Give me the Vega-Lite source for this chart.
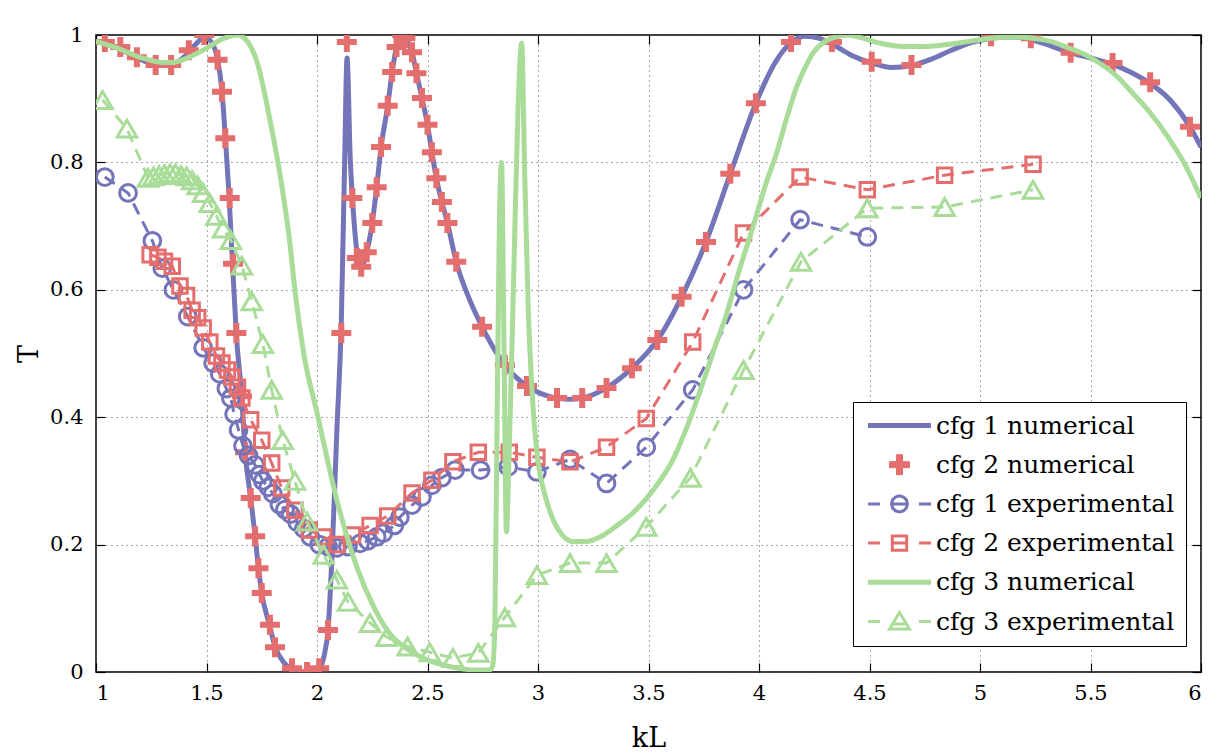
{
  "$schema": "https://vega.github.io/schema/vega-lite/v6.json",
  "width": 1105,
  "height": 637,
  "autosize": "none",
  "padding": {"left": 96, "top": 35, "right": 29, "bottom": 83},
  "background": "white",
  "config": {
    "view": {"stroke": "black", "strokeWidth": 1.5},
    "font": "DejaVu Serif",
    "axis": {
      "labelFont": "DejaVu Serif",
      "labelFontSize": 21,
      "labelColor": "black",
      "titleFont": "DejaVu Serif",
      "titleFontSize": 27,
      "titleFontWeight": "normal",
      "titleColor": "black",
      "tickColor": "black",
      "tickWidth": 1.2,
      "tickSize": -9,
      "domain": false,
      "gridColor": "#555",
      "gridDash": [1, 4],
      "gridWidth": 1
    },
    "legend": {"labelFont": "DejaVu Serif"}
  },
  "datasets": {
    "num": [
      {"s": "cfg 1 numerical", "kL": 1.0, "T": 0.99},
      {"s": "cfg 1 numerical", "kL": 1.05, "T": 0.986},
      {"s": "cfg 1 numerical", "kL": 1.1, "T": 0.979},
      {"s": "cfg 1 numerical", "kL": 1.15, "T": 0.971},
      {"s": "cfg 1 numerical", "kL": 1.2, "T": 0.962},
      {"s": "cfg 1 numerical", "kL": 1.25, "T": 0.955},
      {"s": "cfg 1 numerical", "kL": 1.3, "T": 0.952},
      {"s": "cfg 1 numerical", "kL": 1.35, "T": 0.954},
      {"s": "cfg 1 numerical", "kL": 1.4, "T": 0.966},
      {"s": "cfg 1 numerical", "kL": 1.45, "T": 0.985},
      {"s": "cfg 1 numerical", "kL": 1.49, "T": 0.997},
      {"s": "cfg 1 numerical", "kL": 1.52, "T": 0.99},
      {"s": "cfg 1 numerical", "kL": 1.55, "T": 0.962},
      {"s": "cfg 1 numerical", "kL": 1.57, "T": 0.912},
      {"s": "cfg 1 numerical", "kL": 1.585, "T": 0.84},
      {"s": "cfg 1 numerical", "kL": 1.6, "T": 0.76},
      {"s": "cfg 1 numerical", "kL": 1.615, "T": 0.66},
      {"s": "cfg 1 numerical", "kL": 1.635, "T": 0.53},
      {"s": "cfg 1 numerical", "kL": 1.66, "T": 0.43},
      {"s": "cfg 1 numerical", "kL": 1.675, "T": 0.345},
      {"s": "cfg 1 numerical", "kL": 1.7, "T": 0.273},
      {"s": "cfg 1 numerical", "kL": 1.72, "T": 0.213},
      {"s": "cfg 1 numerical", "kL": 1.735, "T": 0.163},
      {"s": "cfg 1 numerical", "kL": 1.75, "T": 0.124},
      {"s": "cfg 1 numerical", "kL": 1.785, "T": 0.074},
      {"s": "cfg 1 numerical", "kL": 1.81, "T": 0.04},
      {"s": "cfg 1 numerical", "kL": 1.85, "T": 0.015},
      {"s": "cfg 1 numerical", "kL": 1.89, "T": 0.004},
      {"s": "cfg 1 numerical", "kL": 1.955, "T": 0.0},
      {"s": "cfg 1 numerical", "kL": 2.01, "T": 0.006},
      {"s": "cfg 1 numerical", "kL": 2.035, "T": 0.03},
      {"s": "cfg 1 numerical", "kL": 2.05, "T": 0.066},
      {"s": "cfg 1 numerical", "kL": 2.07, "T": 0.2},
      {"s": "cfg 1 numerical", "kL": 2.09, "T": 0.38},
      {"s": "cfg 1 numerical", "kL": 2.11, "T": 0.55},
      {"s": "cfg 1 numerical", "kL": 2.125, "T": 0.8},
      {"s": "cfg 1 numerical", "kL": 2.136, "T": 0.964},
      {"s": "cfg 1 numerical", "kL": 2.15, "T": 0.81},
      {"s": "cfg 1 numerical", "kL": 2.165, "T": 0.72},
      {"s": "cfg 1 numerical", "kL": 2.185, "T": 0.65},
      {"s": "cfg 1 numerical", "kL": 2.2, "T": 0.636},
      {"s": "cfg 1 numerical", "kL": 2.225, "T": 0.659},
      {"s": "cfg 1 numerical", "kL": 2.25, "T": 0.705},
      {"s": "cfg 1 numerical", "kL": 2.27, "T": 0.761},
      {"s": "cfg 1 numerical", "kL": 2.29, "T": 0.824},
      {"s": "cfg 1 numerical", "kL": 2.32, "T": 0.889},
      {"s": "cfg 1 numerical", "kL": 2.34, "T": 0.942},
      {"s": "cfg 1 numerical", "kL": 2.36, "T": 0.981},
      {"s": "cfg 1 numerical", "kL": 2.385, "T": 0.998},
      {"s": "cfg 1 numerical", "kL": 2.405, "T": 0.993},
      {"s": "cfg 1 numerical", "kL": 2.43, "T": 0.973},
      {"s": "cfg 1 numerical", "kL": 2.45, "T": 0.94},
      {"s": "cfg 1 numerical", "kL": 2.475, "T": 0.901},
      {"s": "cfg 1 numerical", "kL": 2.5, "T": 0.859},
      {"s": "cfg 1 numerical", "kL": 2.52, "T": 0.816},
      {"s": "cfg 1 numerical", "kL": 2.54, "T": 0.775},
      {"s": "cfg 1 numerical", "kL": 2.565, "T": 0.738},
      {"s": "cfg 1 numerical", "kL": 2.59, "T": 0.705},
      {"s": "cfg 1 numerical", "kL": 2.63, "T": 0.644},
      {"s": "cfg 1 numerical", "kL": 2.69, "T": 0.585},
      {"s": "cfg 1 numerical", "kL": 2.747, "T": 0.542},
      {"s": "cfg 1 numerical", "kL": 2.8, "T": 0.508},
      {"s": "cfg 1 numerical", "kL": 2.85, "T": 0.482},
      {"s": "cfg 1 numerical", "kL": 2.95, "T": 0.449},
      {"s": "cfg 1 numerical", "kL": 3.086, "T": 0.43},
      {"s": "cfg 1 numerical", "kL": 3.15, "T": 0.428},
      {"s": "cfg 1 numerical", "kL": 3.2, "T": 0.43},
      {"s": "cfg 1 numerical", "kL": 3.31, "T": 0.446},
      {"s": "cfg 1 numerical", "kL": 3.425, "T": 0.477},
      {"s": "cfg 1 numerical", "kL": 3.54, "T": 0.521},
      {"s": "cfg 1 numerical", "kL": 3.65, "T": 0.589},
      {"s": "cfg 1 numerical", "kL": 3.76, "T": 0.675},
      {"s": "cfg 1 numerical", "kL": 3.87, "T": 0.782},
      {"s": "cfg 1 numerical", "kL": 3.986, "T": 0.893},
      {"s": "cfg 1 numerical", "kL": 4.07, "T": 0.955},
      {"s": "cfg 1 numerical", "kL": 4.145, "T": 0.988},
      {"s": "cfg 1 numerical", "kL": 4.21, "T": 0.998},
      {"s": "cfg 1 numerical", "kL": 4.27, "T": 0.995},
      {"s": "cfg 1 numerical", "kL": 4.33, "T": 0.986},
      {"s": "cfg 1 numerical", "kL": 4.42, "T": 0.968},
      {"s": "cfg 1 numerical", "kL": 4.51, "T": 0.956},
      {"s": "cfg 1 numerical", "kL": 4.6, "T": 0.949},
      {"s": "cfg 1 numerical", "kL": 4.69, "T": 0.952},
      {"s": "cfg 1 numerical", "kL": 4.78, "T": 0.962},
      {"s": "cfg 1 numerical", "kL": 4.87, "T": 0.976},
      {"s": "cfg 1 numerical", "kL": 4.96, "T": 0.988},
      {"s": "cfg 1 numerical", "kL": 5.05, "T": 0.995},
      {"s": "cfg 1 numerical", "kL": 5.14, "T": 0.997},
      {"s": "cfg 1 numerical", "kL": 5.23, "T": 0.993},
      {"s": "cfg 1 numerical", "kL": 5.32, "T": 0.983},
      {"s": "cfg 1 numerical", "kL": 5.41, "T": 0.972},
      {"s": "cfg 1 numerical", "kL": 5.5, "T": 0.964},
      {"s": "cfg 1 numerical", "kL": 5.6, "T": 0.954},
      {"s": "cfg 1 numerical", "kL": 5.68, "T": 0.942},
      {"s": "cfg 1 numerical", "kL": 5.77, "T": 0.924},
      {"s": "cfg 1 numerical", "kL": 5.86, "T": 0.898},
      {"s": "cfg 1 numerical", "kL": 5.95, "T": 0.856},
      {"s": "cfg 1 numerical", "kL": 6.0, "T": 0.824},
      {"s": "cfg 3 numerical", "kL": 1.0, "T": 0.99},
      {"s": "cfg 3 numerical", "kL": 1.1, "T": 0.979},
      {"s": "cfg 3 numerical", "kL": 1.2, "T": 0.965},
      {"s": "cfg 3 numerical", "kL": 1.3, "T": 0.957},
      {"s": "cfg 3 numerical", "kL": 1.35, "T": 0.957},
      {"s": "cfg 3 numerical", "kL": 1.4, "T": 0.962},
      {"s": "cfg 3 numerical", "kL": 1.5, "T": 0.979},
      {"s": "cfg 3 numerical", "kL": 1.58, "T": 0.995},
      {"s": "cfg 3 numerical", "kL": 1.64, "T": 1.0},
      {"s": "cfg 3 numerical", "kL": 1.68, "T": 0.992},
      {"s": "cfg 3 numerical", "kL": 1.73, "T": 0.956},
      {"s": "cfg 3 numerical", "kL": 1.787, "T": 0.867},
      {"s": "cfg 3 numerical", "kL": 1.84, "T": 0.765},
      {"s": "cfg 3 numerical", "kL": 1.875, "T": 0.68},
      {"s": "cfg 3 numerical", "kL": 1.9, "T": 0.6},
      {"s": "cfg 3 numerical", "kL": 1.94, "T": 0.5},
      {"s": "cfg 3 numerical", "kL": 2.0, "T": 0.407},
      {"s": "cfg 3 numerical", "kL": 2.09, "T": 0.27},
      {"s": "cfg 3 numerical", "kL": 2.18, "T": 0.165},
      {"s": "cfg 3 numerical", "kL": 2.26, "T": 0.1},
      {"s": "cfg 3 numerical", "kL": 2.33, "T": 0.06},
      {"s": "cfg 3 numerical", "kL": 2.4, "T": 0.038},
      {"s": "cfg 3 numerical", "kL": 2.48, "T": 0.022},
      {"s": "cfg 3 numerical", "kL": 2.56, "T": 0.012},
      {"s": "cfg 3 numerical", "kL": 2.64, "T": 0.006},
      {"s": "cfg 3 numerical", "kL": 2.72, "T": 0.003},
      {"s": "cfg 3 numerical", "kL": 2.78, "T": 0.003},
      {"s": "cfg 3 numerical", "kL": 2.795, "T": 0.01},
      {"s": "cfg 3 numerical", "kL": 2.805, "T": 0.08},
      {"s": "cfg 3 numerical", "kL": 2.815, "T": 0.4},
      {"s": "cfg 3 numerical", "kL": 2.825, "T": 0.7},
      {"s": "cfg 3 numerical", "kL": 2.835, "T": 0.8},
      {"s": "cfg 3 numerical", "kL": 2.845, "T": 0.55},
      {"s": "cfg 3 numerical", "kL": 2.857, "T": 0.22},
      {"s": "cfg 3 numerical", "kL": 2.87, "T": 0.35},
      {"s": "cfg 3 numerical", "kL": 2.89, "T": 0.62},
      {"s": "cfg 3 numerical", "kL": 2.91, "T": 0.89},
      {"s": "cfg 3 numerical", "kL": 2.926, "T": 0.987},
      {"s": "cfg 3 numerical", "kL": 2.94, "T": 0.78},
      {"s": "cfg 3 numerical", "kL": 2.955, "T": 0.58},
      {"s": "cfg 3 numerical", "kL": 2.975, "T": 0.43},
      {"s": "cfg 3 numerical", "kL": 3.0, "T": 0.33},
      {"s": "cfg 3 numerical", "kL": 3.03, "T": 0.28},
      {"s": "cfg 3 numerical", "kL": 3.07, "T": 0.238},
      {"s": "cfg 3 numerical", "kL": 3.11, "T": 0.215},
      {"s": "cfg 3 numerical", "kL": 3.155, "T": 0.205},
      {"s": "cfg 3 numerical", "kL": 3.22, "T": 0.205},
      {"s": "cfg 3 numerical", "kL": 3.28, "T": 0.212},
      {"s": "cfg 3 numerical", "kL": 3.35, "T": 0.228},
      {"s": "cfg 3 numerical", "kL": 3.43, "T": 0.25},
      {"s": "cfg 3 numerical", "kL": 3.52, "T": 0.285},
      {"s": "cfg 3 numerical", "kL": 3.61, "T": 0.333},
      {"s": "cfg 3 numerical", "kL": 3.68, "T": 0.39},
      {"s": "cfg 3 numerical", "kL": 3.75, "T": 0.458},
      {"s": "cfg 3 numerical", "kL": 3.8, "T": 0.51},
      {"s": "cfg 3 numerical", "kL": 3.855, "T": 0.564},
      {"s": "cfg 3 numerical", "kL": 3.91, "T": 0.63},
      {"s": "cfg 3 numerical", "kL": 3.973, "T": 0.699},
      {"s": "cfg 3 numerical", "kL": 4.03, "T": 0.765},
      {"s": "cfg 3 numerical", "kL": 4.08, "T": 0.815},
      {"s": "cfg 3 numerical", "kL": 4.13, "T": 0.875},
      {"s": "cfg 3 numerical", "kL": 4.17, "T": 0.918},
      {"s": "cfg 3 numerical", "kL": 4.21, "T": 0.95},
      {"s": "cfg 3 numerical", "kL": 4.245, "T": 0.972},
      {"s": "cfg 3 numerical", "kL": 4.29, "T": 0.988},
      {"s": "cfg 3 numerical", "kL": 4.33, "T": 0.995},
      {"s": "cfg 3 numerical", "kL": 4.4, "T": 1.0},
      {"s": "cfg 3 numerical", "kL": 4.47, "T": 0.995},
      {"s": "cfg 3 numerical", "kL": 4.55, "T": 0.987},
      {"s": "cfg 3 numerical", "kL": 4.65, "T": 0.982},
      {"s": "cfg 3 numerical", "kL": 4.75, "T": 0.982},
      {"s": "cfg 3 numerical", "kL": 4.85, "T": 0.985},
      {"s": "cfg 3 numerical", "kL": 4.95, "T": 0.99},
      {"s": "cfg 3 numerical", "kL": 5.05, "T": 0.995},
      {"s": "cfg 3 numerical", "kL": 5.15, "T": 0.997},
      {"s": "cfg 3 numerical", "kL": 5.24, "T": 0.995},
      {"s": "cfg 3 numerical", "kL": 5.32, "T": 0.99},
      {"s": "cfg 3 numerical", "kL": 5.39, "T": 0.981},
      {"s": "cfg 3 numerical", "kL": 5.47, "T": 0.97},
      {"s": "cfg 3 numerical", "kL": 5.54, "T": 0.956},
      {"s": "cfg 3 numerical", "kL": 5.62, "T": 0.935},
      {"s": "cfg 3 numerical", "kL": 5.69, "T": 0.909},
      {"s": "cfg 3 numerical", "kL": 5.77, "T": 0.878},
      {"s": "cfg 3 numerical", "kL": 5.85, "T": 0.84},
      {"s": "cfg 3 numerical", "kL": 5.93, "T": 0.795},
      {"s": "cfg 3 numerical", "kL": 6.0, "T": 0.744}
    ],
    "cross": [
      {"s": "cfg 2 numerical", "kL": 1.04, "T": 0.989},
      {"s": "cfg 2 numerical", "kL": 1.11, "T": 0.981},
      {"s": "cfg 2 numerical", "kL": 1.185, "T": 0.965},
      {"s": "cfg 2 numerical", "kL": 1.27, "T": 0.953},
      {"s": "cfg 2 numerical", "kL": 1.34, "T": 0.953},
      {"s": "cfg 2 numerical", "kL": 1.42, "T": 0.976},
      {"s": "cfg 2 numerical", "kL": 1.49, "T": 1.0},
      {"s": "cfg 2 numerical", "kL": 1.55, "T": 0.961},
      {"s": "cfg 2 numerical", "kL": 1.57, "T": 0.911},
      {"s": "cfg 2 numerical", "kL": 1.585, "T": 0.838},
      {"s": "cfg 2 numerical", "kL": 1.605, "T": 0.744},
      {"s": "cfg 2 numerical", "kL": 1.62, "T": 0.641},
      {"s": "cfg 2 numerical", "kL": 1.635, "T": 0.532},
      {"s": "cfg 2 numerical", "kL": 1.66, "T": 0.433},
      {"s": "cfg 2 numerical", "kL": 1.675, "T": 0.345},
      {"s": "cfg 2 numerical", "kL": 1.7, "T": 0.273},
      {"s": "cfg 2 numerical", "kL": 1.72, "T": 0.213},
      {"s": "cfg 2 numerical", "kL": 1.735, "T": 0.163},
      {"s": "cfg 2 numerical", "kL": 1.75, "T": 0.124},
      {"s": "cfg 2 numerical", "kL": 1.787, "T": 0.074},
      {"s": "cfg 2 numerical", "kL": 1.81, "T": 0.039},
      {"s": "cfg 2 numerical", "kL": 1.887, "T": 0.006},
      {"s": "cfg 2 numerical", "kL": 1.955, "T": 0.0},
      {"s": "cfg 2 numerical", "kL": 2.01, "T": 0.006},
      {"s": "cfg 2 numerical", "kL": 2.05, "T": 0.066},
      {"s": "cfg 2 numerical", "kL": 2.11, "T": 0.532},
      {"s": "cfg 2 numerical", "kL": 2.135, "T": 0.989},
      {"s": "cfg 2 numerical", "kL": 2.16, "T": 0.744},
      {"s": "cfg 2 numerical", "kL": 2.18, "T": 0.65},
      {"s": "cfg 2 numerical", "kL": 2.2, "T": 0.636},
      {"s": "cfg 2 numerical", "kL": 2.225, "T": 0.659},
      {"s": "cfg 2 numerical", "kL": 2.25, "T": 0.705},
      {"s": "cfg 2 numerical", "kL": 2.27, "T": 0.761},
      {"s": "cfg 2 numerical", "kL": 2.29, "T": 0.824},
      {"s": "cfg 2 numerical", "kL": 2.32, "T": 0.889},
      {"s": "cfg 2 numerical", "kL": 2.34, "T": 0.942},
      {"s": "cfg 2 numerical", "kL": 2.36, "T": 0.981},
      {"s": "cfg 2 numerical", "kL": 2.385, "T": 1.0},
      {"s": "cfg 2 numerical", "kL": 2.4, "T": 0.995},
      {"s": "cfg 2 numerical", "kL": 2.43, "T": 0.973},
      {"s": "cfg 2 numerical", "kL": 2.45, "T": 0.94},
      {"s": "cfg 2 numerical", "kL": 2.475, "T": 0.901},
      {"s": "cfg 2 numerical", "kL": 2.5, "T": 0.859},
      {"s": "cfg 2 numerical", "kL": 2.52, "T": 0.816},
      {"s": "cfg 2 numerical", "kL": 2.54, "T": 0.775},
      {"s": "cfg 2 numerical", "kL": 2.565, "T": 0.738},
      {"s": "cfg 2 numerical", "kL": 2.59, "T": 0.705},
      {"s": "cfg 2 numerical", "kL": 2.63, "T": 0.644},
      {"s": "cfg 2 numerical", "kL": 2.747, "T": 0.542},
      {"s": "cfg 2 numerical", "kL": 2.85, "T": 0.482},
      {"s": "cfg 2 numerical", "kL": 2.95, "T": 0.449},
      {"s": "cfg 2 numerical", "kL": 3.086, "T": 0.43},
      {"s": "cfg 2 numerical", "kL": 3.2, "T": 0.43},
      {"s": "cfg 2 numerical", "kL": 3.31, "T": 0.446},
      {"s": "cfg 2 numerical", "kL": 3.425, "T": 0.477},
      {"s": "cfg 2 numerical", "kL": 3.54, "T": 0.521},
      {"s": "cfg 2 numerical", "kL": 3.65, "T": 0.589},
      {"s": "cfg 2 numerical", "kL": 3.76, "T": 0.675},
      {"s": "cfg 2 numerical", "kL": 3.87, "T": 0.782},
      {"s": "cfg 2 numerical", "kL": 3.986, "T": 0.893},
      {"s": "cfg 2 numerical", "kL": 4.145, "T": 0.989},
      {"s": "cfg 2 numerical", "kL": 4.33, "T": 0.989},
      {"s": "cfg 2 numerical", "kL": 4.51, "T": 0.958},
      {"s": "cfg 2 numerical", "kL": 4.69, "T": 0.953},
      {"s": "cfg 2 numerical", "kL": 5.05, "T": 0.998},
      {"s": "cfg 2 numerical", "kL": 5.23, "T": 0.995},
      {"s": "cfg 2 numerical", "kL": 5.41, "T": 0.972},
      {"s": "cfg 2 numerical", "kL": 5.6, "T": 0.956},
      {"s": "cfg 2 numerical", "kL": 5.77, "T": 0.926},
      {"s": "cfg 2 numerical", "kL": 5.95, "T": 0.856}
    ],
    "exp": [
      {"s": "cfg 1 experimental", "kL": 1.04, "T": 0.777},
      {"s": "cfg 1 experimental", "kL": 1.145, "T": 0.752},
      {"s": "cfg 1 experimental", "kL": 1.255, "T": 0.677},
      {"s": "cfg 1 experimental", "kL": 1.3, "T": 0.634},
      {"s": "cfg 1 experimental", "kL": 1.35, "T": 0.6},
      {"s": "cfg 1 experimental", "kL": 1.415, "T": 0.558},
      {"s": "cfg 1 experimental", "kL": 1.485, "T": 0.509},
      {"s": "cfg 1 experimental", "kL": 1.53, "T": 0.485},
      {"s": "cfg 1 experimental", "kL": 1.56, "T": 0.468},
      {"s": "cfg 1 experimental", "kL": 1.59, "T": 0.445},
      {"s": "cfg 1 experimental", "kL": 1.61, "T": 0.43},
      {"s": "cfg 1 experimental", "kL": 1.625, "T": 0.405},
      {"s": "cfg 1 experimental", "kL": 1.645, "T": 0.38},
      {"s": "cfg 1 experimental", "kL": 1.665, "T": 0.355},
      {"s": "cfg 1 experimental", "kL": 1.69, "T": 0.34},
      {"s": "cfg 1 experimental", "kL": 1.72, "T": 0.325},
      {"s": "cfg 1 experimental", "kL": 1.74, "T": 0.31},
      {"s": "cfg 1 experimental", "kL": 1.755, "T": 0.3},
      {"s": "cfg 1 experimental", "kL": 1.78, "T": 0.29},
      {"s": "cfg 1 experimental", "kL": 1.8, "T": 0.28},
      {"s": "cfg 1 experimental", "kL": 1.83, "T": 0.263},
      {"s": "cfg 1 experimental", "kL": 1.855, "T": 0.255},
      {"s": "cfg 1 experimental", "kL": 1.88, "T": 0.248},
      {"s": "cfg 1 experimental", "kL": 1.91, "T": 0.235},
      {"s": "cfg 1 experimental", "kL": 1.94, "T": 0.225},
      {"s": "cfg 1 experimental", "kL": 1.97, "T": 0.212},
      {"s": "cfg 1 experimental", "kL": 2.01, "T": 0.2},
      {"s": "cfg 1 experimental", "kL": 2.05, "T": 0.197},
      {"s": "cfg 1 experimental", "kL": 2.09, "T": 0.195},
      {"s": "cfg 1 experimental", "kL": 2.14, "T": 0.197},
      {"s": "cfg 1 experimental", "kL": 2.195, "T": 0.202},
      {"s": "cfg 1 experimental", "kL": 2.23, "T": 0.206},
      {"s": "cfg 1 experimental", "kL": 2.27, "T": 0.212},
      {"s": "cfg 1 experimental", "kL": 2.3, "T": 0.218},
      {"s": "cfg 1 experimental", "kL": 2.35, "T": 0.23},
      {"s": "cfg 1 experimental", "kL": 2.375, "T": 0.243},
      {"s": "cfg 1 experimental", "kL": 2.43, "T": 0.262},
      {"s": "cfg 1 experimental", "kL": 2.475, "T": 0.275},
      {"s": "cfg 1 experimental", "kL": 2.52, "T": 0.293},
      {"s": "cfg 1 experimental", "kL": 2.565, "T": 0.305},
      {"s": "cfg 1 experimental", "kL": 2.625, "T": 0.317},
      {"s": "cfg 1 experimental", "kL": 2.74, "T": 0.317},
      {"s": "cfg 1 experimental", "kL": 2.865, "T": 0.322},
      {"s": "cfg 1 experimental", "kL": 2.995, "T": 0.314},
      {"s": "cfg 1 experimental", "kL": 3.145, "T": 0.334},
      {"s": "cfg 1 experimental", "kL": 3.31, "T": 0.296},
      {"s": "cfg 1 experimental", "kL": 3.49, "T": 0.353},
      {"s": "cfg 1 experimental", "kL": 3.7, "T": 0.443},
      {"s": "cfg 1 experimental", "kL": 3.93, "T": 0.6},
      {"s": "cfg 1 experimental", "kL": 4.186, "T": 0.71},
      {"s": "cfg 1 experimental", "kL": 4.49, "T": 0.683},
      {"s": "cfg 2 experimental", "kL": 1.245, "T": 0.655},
      {"s": "cfg 2 experimental", "kL": 1.28, "T": 0.651},
      {"s": "cfg 2 experimental", "kL": 1.31, "T": 0.645},
      {"s": "cfg 2 experimental", "kL": 1.345, "T": 0.637},
      {"s": "cfg 2 experimental", "kL": 1.38, "T": 0.606},
      {"s": "cfg 2 experimental", "kL": 1.41, "T": 0.591},
      {"s": "cfg 2 experimental", "kL": 1.435, "T": 0.568},
      {"s": "cfg 2 experimental", "kL": 1.46, "T": 0.556},
      {"s": "cfg 2 experimental", "kL": 1.485, "T": 0.54},
      {"s": "cfg 2 experimental", "kL": 1.515, "T": 0.518},
      {"s": "cfg 2 experimental", "kL": 1.545, "T": 0.496},
      {"s": "cfg 2 experimental", "kL": 1.57, "T": 0.485},
      {"s": "cfg 2 experimental", "kL": 1.595, "T": 0.474},
      {"s": "cfg 2 experimental", "kL": 1.615, "T": 0.463},
      {"s": "cfg 2 experimental", "kL": 1.64, "T": 0.447},
      {"s": "cfg 2 experimental", "kL": 1.66, "T": 0.43},
      {"s": "cfg 2 experimental", "kL": 1.7, "T": 0.396},
      {"s": "cfg 2 experimental", "kL": 1.75, "T": 0.364},
      {"s": "cfg 2 experimental", "kL": 1.795, "T": 0.328},
      {"s": "cfg 2 experimental", "kL": 1.84, "T": 0.289},
      {"s": "cfg 2 experimental", "kL": 1.9, "T": 0.254},
      {"s": "cfg 2 experimental", "kL": 1.965, "T": 0.223},
      {"s": "cfg 2 experimental", "kL": 2.03, "T": 0.212},
      {"s": "cfg 2 experimental", "kL": 2.09, "T": 0.2},
      {"s": "cfg 2 experimental", "kL": 2.16, "T": 0.215},
      {"s": "cfg 2 experimental", "kL": 2.24, "T": 0.23},
      {"s": "cfg 2 experimental", "kL": 2.32, "T": 0.245},
      {"s": "cfg 2 experimental", "kL": 2.43, "T": 0.281},
      {"s": "cfg 2 experimental", "kL": 2.52, "T": 0.301},
      {"s": "cfg 2 experimental", "kL": 2.615, "T": 0.33},
      {"s": "cfg 2 experimental", "kL": 2.73, "T": 0.345},
      {"s": "cfg 2 experimental", "kL": 2.87, "T": 0.345},
      {"s": "cfg 2 experimental", "kL": 2.995, "T": 0.337},
      {"s": "cfg 2 experimental", "kL": 3.145, "T": 0.33},
      {"s": "cfg 2 experimental", "kL": 3.31, "T": 0.353},
      {"s": "cfg 2 experimental", "kL": 3.49, "T": 0.398},
      {"s": "cfg 2 experimental", "kL": 3.7, "T": 0.518},
      {"s": "cfg 2 experimental", "kL": 3.93, "T": 0.689},
      {"s": "cfg 2 experimental", "kL": 4.186, "T": 0.777},
      {"s": "cfg 2 experimental", "kL": 4.49, "T": 0.757},
      {"s": "cfg 2 experimental", "kL": 4.84, "T": 0.78},
      {"s": "cfg 2 experimental", "kL": 5.24, "T": 0.797},
      {"s": "cfg 3 experimental", "kL": 1.03, "T": 0.898},
      {"s": "cfg 3 experimental", "kL": 1.14, "T": 0.853},
      {"s": "cfg 3 experimental", "kL": 1.235, "T": 0.776},
      {"s": "cfg 3 experimental", "kL": 1.26, "T": 0.778},
      {"s": "cfg 3 experimental", "kL": 1.285, "T": 0.78},
      {"s": "cfg 3 experimental", "kL": 1.31, "T": 0.782},
      {"s": "cfg 3 experimental", "kL": 1.335, "T": 0.783},
      {"s": "cfg 3 experimental", "kL": 1.36, "T": 0.783},
      {"s": "cfg 3 experimental", "kL": 1.385, "T": 0.78},
      {"s": "cfg 3 experimental", "kL": 1.41, "T": 0.778},
      {"s": "cfg 3 experimental", "kL": 1.435, "T": 0.772},
      {"s": "cfg 3 experimental", "kL": 1.46, "T": 0.764},
      {"s": "cfg 3 experimental", "kL": 1.485, "T": 0.752},
      {"s": "cfg 3 experimental", "kL": 1.515, "T": 0.736},
      {"s": "cfg 3 experimental", "kL": 1.545, "T": 0.716},
      {"s": "cfg 3 experimental", "kL": 1.575, "T": 0.696},
      {"s": "cfg 3 experimental", "kL": 1.61, "T": 0.678},
      {"s": "cfg 3 experimental", "kL": 1.66, "T": 0.638},
      {"s": "cfg 3 experimental", "kL": 1.705, "T": 0.582},
      {"s": "cfg 3 experimental", "kL": 1.755, "T": 0.515},
      {"s": "cfg 3 experimental", "kL": 1.795, "T": 0.443},
      {"s": "cfg 3 experimental", "kL": 1.845, "T": 0.364},
      {"s": "cfg 3 experimental", "kL": 1.9, "T": 0.3},
      {"s": "cfg 3 experimental", "kL": 1.955, "T": 0.236},
      {"s": "cfg 3 experimental", "kL": 2.03, "T": 0.184},
      {"s": "cfg 3 experimental", "kL": 2.09, "T": 0.145},
      {"s": "cfg 3 experimental", "kL": 2.14, "T": 0.11},
      {"s": "cfg 3 experimental", "kL": 2.24, "T": 0.077},
      {"s": "cfg 3 experimental", "kL": 2.315, "T": 0.055},
      {"s": "cfg 3 experimental", "kL": 2.41, "T": 0.04},
      {"s": "cfg 3 experimental", "kL": 2.51, "T": 0.031},
      {"s": "cfg 3 experimental", "kL": 2.615, "T": 0.022},
      {"s": "cfg 3 experimental", "kL": 2.73, "T": 0.03},
      {"s": "cfg 3 experimental", "kL": 2.85, "T": 0.086},
      {"s": "cfg 3 experimental", "kL": 2.995, "T": 0.152},
      {"s": "cfg 3 experimental", "kL": 3.145, "T": 0.171},
      {"s": "cfg 3 experimental", "kL": 3.31, "T": 0.171},
      {"s": "cfg 3 experimental", "kL": 3.49, "T": 0.228},
      {"s": "cfg 3 experimental", "kL": 3.69, "T": 0.305},
      {"s": "cfg 3 experimental", "kL": 3.93, "T": 0.474},
      {"s": "cfg 3 experimental", "kL": 4.19, "T": 0.644},
      {"s": "cfg 3 experimental", "kL": 4.49, "T": 0.728},
      {"s": "cfg 3 experimental", "kL": 4.84, "T": 0.73},
      {"s": "cfg 3 experimental", "kL": 5.24, "T": 0.757}
    ]
  },
  "resolve": {"axis": {"x": "independent", "y": "independent"}},
  "layer": [
    {
      "data": {"name": "num"},
      "transform": [{"filter": "datum.s === 'cfg 1 numerical'"}],
      "mark": {"type": "line", "strokeWidth": 5, "interpolate": "monotone", "clip": true},
      "encoding": {
        "x": {
          "field": "kL", "type": "quantitative",
          "scale": {"domain": [1, 6], "nice": false, "zero": false},
          "axis": {
            "orient": "bottom", "title": "kL",
            "values": [1, 1.5, 2, 2.5, 3, 3.5, 4, 4.5, 5, 5.5, 6],
            "labelExpr": "'' + datum.value",
            "labelFont": "DejaVu Serif",
            "grid": true, "labelPadding": 19, "titlePadding": 22
          }
        },
        "y": {
          "field": "T", "type": "quantitative",
          "scale": {"domain": [0, 1], "nice": false, "zero": false},
          "axis": {
            "orient": "left", "title": "T",
            "values": [0, 0.2, 0.4, 0.6, 0.8, 1],
            "labelExpr": "'' + datum.value",
            "labelFont": "DejaVu Serif",
            "grid": true, "labelPadding": 22, "titlePadding": 6
          }
        },
        "color": {
          "field": "s", "type": "nominal",
          "scale": {
            "domain": ["cfg 1 numerical", "cfg 2 numerical", "cfg 1 experimental", "cfg 2 experimental", "cfg 3 numerical", "cfg 3 experimental"],
            "range": ["#7474b8", "#e46e6e", "#7474b8", "#e46e6e", "#a8dc98", "#a8dc98"]
          },
          "legend": {
            "title": null,
            "orient": "none",
            "legendX": 757,
            "legendY": 367,
            "direction": "vertical",
            "padding": 11,
            "strokeColor": "black",
            "fillColor": "white",
            "labelFont": "DejaVu Serif",
            "labelFontSize": 25,
            "labelColor": "black",
            "labelLimit": 400,
            "labelOffset": 24,
            "symbolOffset": 23,
            "symbolSize": 400,
            "symbolStrokeWidth": 3,
            "symbolFillColor": "transparent",
            "rowPadding": 8.2,
            "encode": {
              "symbols": {
                "update": {
                  "shape": {"signal": "datum.value === 'cfg 1 numerical' || datum.value === 'cfg 3 numerical' ? 'M-3.15,-0.5M3.15,0.5M-3.15,0H3.15' : datum.value === 'cfg 2 numerical' ? 'M-3.15,-1.3M3.15,1.3M-1,-0.3H-0.3V-1H0.3V-0.3H1V0.3H0.3V1H-0.3V0.3H-1Z' : datum.value === 'cfg 1 experimental' ? 'M-3.15,-0.9M3.15,0.9M-3.15,0H-1.95M1.95,0H3.15M0.8,0L0.69,0.4L0.4,0.69L0,0.8L-0.4,0.69L-0.69,0.4L-0.8,0L-0.69,-0.4L-0.4,-0.69L0,-0.8L0.4,-0.69L0.69,-0.4ZM-0.8,0H0.8' : datum.value === 'cfg 2 experimental' ? 'M-3.15,-0.9M3.15,0.9M-3.15,0H-1.95M1.95,0H3.15M-0.72,-0.72H0.72V0.72H-0.72ZM-0.72,0H0.72' : 'M-3.15,-0.9M3.15,0.75M-3.15,0H-1.95M1.95,0H3.15M0,-0.9L1,0.75H-1ZM-0.6,0.25H0.6'"},
                  "strokeWidth": {"signal": "datum.value === 'cfg 2 numerical' ? 1 : (datum.value === 'cfg 1 numerical' || datum.value === 'cfg 3 numerical') ? 5 : 3"},
                  "fill": {"signal": "datum.value === 'cfg 2 numerical' ? '#e46e6e' : 'transparent'"}
                }
              }
            }
          }
        }
      }
    },
    {
      "data": {"name": "cross"},
      "mark": {"type": "point", "shape": "M-1,0H1M0,-1V1", "size": 400, "strokeWidth": 6, "filled": false, "opacity": 1, "clip": true},
      "encoding": {
        "x": {"field": "kL", "type": "quantitative", "axis": null},
        "y": {"field": "T", "type": "quantitative", "axis": null},
        "color": {"field": "s", "type": "nominal"}
      }
    },
    {
      "data": {"name": "exp"},
      "transform": [{"filter": "datum.s === 'cfg 1 experimental'"}],
      "mark": {"type": "line", "strokeWidth": 3, "strokeDash": [12, 8], "clip": true},
      "encoding": {
        "x": {"field": "kL", "type": "quantitative", "axis": null},
        "y": {"field": "T", "type": "quantitative", "axis": null},
        "color": {"field": "s", "type": "nominal"}
      }
    },
    {
      "data": {"name": "exp"},
      "transform": [{"filter": "datum.s === 'cfg 1 experimental'"}],
      "mark": {"type": "point", "shape": "circle", "size": 280, "strokeWidth": 3, "filled": false, "opacity": 1, "clip": true},
      "encoding": {
        "x": {"field": "kL", "type": "quantitative", "axis": null},
        "y": {"field": "T", "type": "quantitative", "axis": null},
        "color": {"field": "s", "type": "nominal"}
      }
    },
    {
      "data": {"name": "exp"},
      "transform": [{"filter": "datum.s === 'cfg 2 experimental'"}],
      "mark": {"type": "line", "strokeWidth": 3, "strokeDash": [12, 8], "clip": true},
      "encoding": {
        "x": {"field": "kL", "type": "quantitative", "axis": null},
        "y": {"field": "T", "type": "quantitative", "axis": null},
        "color": {"field": "s", "type": "nominal"}
      }
    },
    {
      "data": {"name": "exp"},
      "transform": [{"filter": "datum.s === 'cfg 2 experimental'"}],
      "mark": {"type": "point", "shape": "square", "size": 210, "strokeWidth": 3, "filled": false, "opacity": 1, "clip": true},
      "encoding": {
        "x": {"field": "kL", "type": "quantitative", "axis": null},
        "y": {"field": "T", "type": "quantitative", "axis": null},
        "color": {"field": "s", "type": "nominal"}
      }
    },
    {
      "data": {"name": "num"},
      "transform": [{"filter": "datum.s === 'cfg 3 numerical'"}],
      "mark": {"type": "line", "strokeWidth": 5, "interpolate": "monotone", "clip": true},
      "encoding": {
        "x": {
          "field": "kL", "type": "quantitative",
          "axis": {
            "orient": "top", "title": null, "labels": false, "grid": false,
            "values": [1, 1.5, 2, 2.5, 3, 3.5, 4, 4.5, 5, 5.5, 6]
          }
        },
        "y": {
          "field": "T", "type": "quantitative",
          "axis": {
            "orient": "right", "title": null, "labels": false, "grid": false,
            "values": [0, 0.2, 0.4, 0.6, 0.8, 1]
          }
        },
        "color": {"field": "s", "type": "nominal"}
      }
    },
    {
      "data": {"name": "exp"},
      "transform": [{"filter": "datum.s === 'cfg 3 experimental'"}],
      "mark": {"type": "line", "strokeWidth": 3, "strokeDash": [12, 8], "clip": true},
      "encoding": {
        "x": {"field": "kL", "type": "quantitative", "axis": null},
        "y": {"field": "T", "type": "quantitative", "axis": null},
        "color": {"field": "s", "type": "nominal"}
      }
    },
    {
      "data": {"name": "exp"},
      "transform": [{"filter": "datum.s === 'cfg 3 experimental'"}],
      "mark": {"type": "point", "shape": "triangle-up", "size": 380, "strokeWidth": 3, "filled": false, "opacity": 1, "clip": true},
      "encoding": {
        "x": {"field": "kL", "type": "quantitative", "axis": null},
        "y": {"field": "T", "type": "quantitative", "axis": null},
        "color": {"field": "s", "type": "nominal"}
      }
    }
  ]
}
